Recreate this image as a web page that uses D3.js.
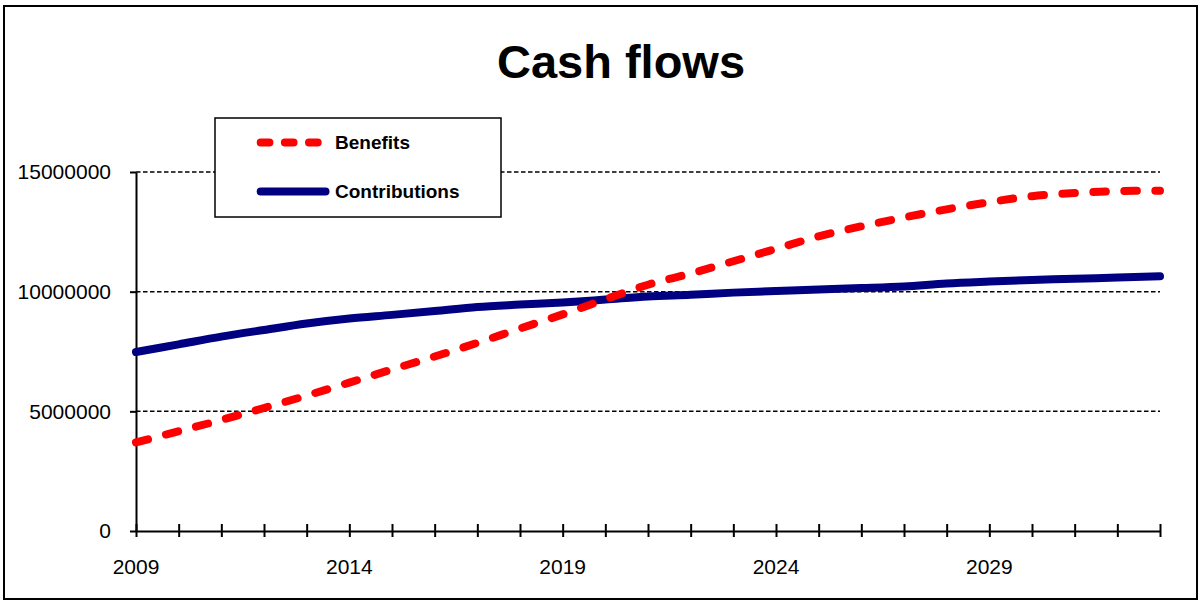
<!DOCTYPE html>
<html>
<head>
<meta charset="utf-8">
<script src="https://cdn.jsdelivr.net/npm/d3@7"></script>
<style>
  html, body { margin: 0; padding: 0; background: #fff; }
  svg { display: block; font-family: Arial, "Liberation Sans", sans-serif; }
</style>
</head>
<body>
<svg id="chart" width="1200" height="602"></svg>
<script>
// Annual cash flows, 2009-2033
const years = [2009, 2010, 2011, 2012, 2013, 2014, 2015, 2016, 2017, 2018, 2019, 2020, 2021,
               2022, 2023, 2024, 2025, 2026, 2027, 2028, 2029, 2030, 2031, 2032, 2033];
const benefits = [3700000, 4170000, 4640000, 5140000, 5660000, 6200000, 6750000, 7290000,
                  7860000, 8460000, 9050000, 9680000, 10290000, 10760000, 11270000, 11790000,
                  12310000, 12730000, 13100000, 13440000, 13740000, 13990000, 14120000,
                  14200000, 14220000];
const contributions = [7480000, 7800000, 8120000, 8400000, 8670000, 8880000, 9030000, 9190000,
                       9360000, 9460000, 9550000, 9670000, 9800000, 9870000, 9960000, 10030000,
                       10090000, 10150000, 10220000, 10340000, 10420000, 10490000, 10540000,
                       10590000, 10640000];
const yTicks = [0, 5000000, 10000000, 15000000];
const xLabelYears = [2009, 2014, 2019, 2024, 2029];
const seriesNames = ["Benefits", "Contributions"];

const svg = d3.select("#chart");
const plotLeft = 136, plotRight = 1160, plotTop = 172, plotBottom = 531;

const x = d3.scaleLinear().domain([years[0], years[years.length - 1]]).range([plotLeft, plotRight]);
const y = d3.scaleLinear().domain([0, 15000000]).range([plotBottom, plotTop]);

// outer frame
svg.append("rect")
  .attr("x", 4).attr("y", 6).attr("width", 1193).attr("height", 593)
  .attr("fill", "#fff").attr("stroke", "#000").attr("stroke-width", 2);

// title
svg.append("text")
  .attr("x", 621).attr("y", 78)
  .attr("text-anchor", "middle")
  .attr("font-size", 47).attr("font-weight", "bold")
  .text("Cash flows");

// horizontal gridlines
svg.append("g").selectAll("line")
  .data(yTicks.filter(d => d > 0))
  .join("line")
  .attr("x1", plotLeft).attr("x2", plotRight)
  .attr("y1", d => y(d)).attr("y2", d => y(d))
  .attr("stroke", "#000").attr("stroke-width", 1.5)
  .attr("stroke-dasharray", "4.5,2.5");

// y axis
const yAxis = svg.append("g")
  .attr("transform", `translate(${plotLeft},0)`)
  .call(d3.axisLeft(y).tickValues(yTicks).tickSize(6).tickSizeOuter(0).tickPadding(19)
        .tickFormat(d3.format("d")));
yAxis.select(".domain").attr("stroke-width", 2);
yAxis.selectAll(".tick line").attr("stroke-width", 2);
yAxis.selectAll(".tick text")
  .attr("font-size", 21).attr("font-family", "Arial, 'Liberation Sans', sans-serif")
  .attr("fill", "#000");

// x axis: ticks cross the axis line
const xAxis = svg.append("g")
  .attr("transform", `translate(0,${plotBottom})`)
  .call(d3.axisBottom(x).tickValues(years).tickSize(6).tickSizeOuter(0).tickFormat(""));
xAxis.select(".domain").attr("stroke-width", 2);
xAxis.selectAll(".tick line").attr("y1", -7).attr("y2", 6).attr("stroke-width", 2);

svg.append("g").selectAll("text")
  .data(xLabelYears)
  .join("text")
  .attr("x", d => x(d)).attr("y", 574)
  .attr("text-anchor", "middle")
  .attr("font-size", 21)
  .text(d => d);

// series lines
const line = d3.line().curve(d3.curveCatmullRom.alpha(0.5));

svg.append("path")
  .datum(years.map((yr, i) => [x(yr), y(contributions[i])]))
  .attr("d", line)
  .attr("fill", "none").attr("stroke", "#000080")
  .attr("stroke-width", 8).attr("stroke-linecap", "round").attr("stroke-linejoin", "round");

svg.append("path")
  .datum(years.map((yr, i) => [x(yr), y(benefits[i])]))
  .attr("d", line)
  .attr("fill", "none").attr("stroke", "#ff0000")
  .attr("stroke-width", 8).attr("stroke-linecap", "round")
  .attr("stroke-dasharray", "12.5,18.5");

// legend
const lg = svg.append("g");
lg.append("rect")
  .attr("x", 215).attr("y", 118).attr("width", 286).attr("height", 99)
  .attr("fill", "#fff").attr("stroke", "#000").attr("stroke-width", 1.5);
lg.append("line")
  .attr("x1", 260.7).attr("x2", 317.7).attr("y1", 142.5).attr("y2", 142.5)
  .attr("stroke", "#ff0000").attr("stroke-width", 8).attr("stroke-linecap", "round")
  .attr("stroke-dasharray", "8.7,15.45");
lg.append("line")
  .attr("x1", 260.7).attr("x2", 325.5).attr("y1", 191.5).attr("y2", 191.5)
  .attr("stroke", "#000080").attr("stroke-width", 8).attr("stroke-linecap", "round");
lg.selectAll("text.lbl")
  .data(seriesNames)
  .join("text")
  .attr("class", "lbl")
  .attr("x", 335).attr("y", (d, i) => 149 + i * 49)
  .attr("font-size", 19).attr("font-weight", "bold")
  .text(d => d);
</script>
</body>
</html>
